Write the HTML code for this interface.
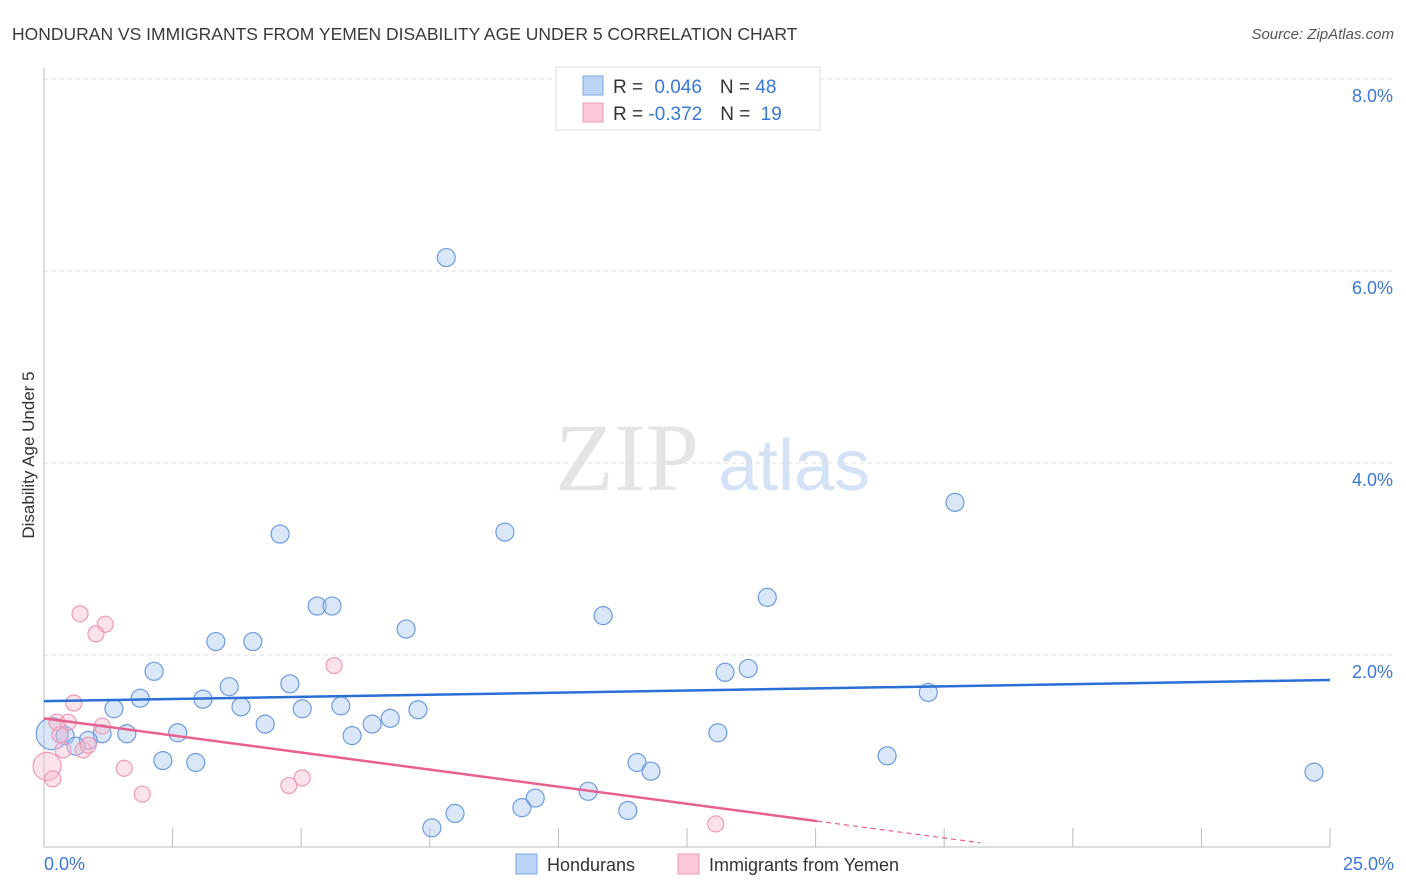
<!DOCTYPE html>
<html><head><meta charset="utf-8">
<style>
body{margin:0;background:#fff;font-family:"Liberation Sans",sans-serif;}
svg{display:block}
</style></head>
<body>
<svg id="chart" width="1406" height="892">
  <text x="12" y="40" font-size="17.5" fill="#3a3a3a">HONDURAN VS IMMIGRANTS FROM YEMEN DISABILITY AGE UNDER 5 CORRELATION CHART</text>
  <text x="1394" y="39" font-size="15" fill="#555" font-style="italic" text-anchor="end">Source: ZipAtlas.com</text>
  <text x="34" y="455" font-size="17" fill="#333" text-anchor="middle" transform="rotate(-90 34 455)">Disability Age Under 5</text>
  <text x="555" y="490" font-size="96" fill="#e4e4e4" font-family="Liberation Serif, serif">ZIP</text>
  <text x="718" y="490" font-size="72" fill="#d3e2f5">atlas</text>
  <g id="grid"></g>
  <g id="pts"></g>
  <g id="lines"></g>
  <g>
    <rect x="556" y="67" width="264" height="63" fill="#fff" stroke="#ddd"/>
    <rect x="583" y="76" width="20" height="19" fill="#bcd4f5" stroke="#7aa7e6"/>
    <rect x="583" y="103" width="20" height="19" fill="#fbc9d8" stroke="#f09ab4"/>
    <text x="613" y="93" font-size="19" fill="#333">R = <tspan fill="#3a78d6" dx="6">0.046</tspan><tspan dx="18" fill="#333">N = </tspan><tspan fill="#3a78d6">48</tspan></text>
    <text x="613" y="120" font-size="19" fill="#333">R = <tspan fill="#3a78d6">-0.372</tspan><tspan dx="18" fill="#333">N = </tspan><tspan fill="#3a78d6" dx="5">19</tspan></text>
  </g>
  <g>
    <rect x="516" y="854" width="21" height="20" fill="#bcd4f5" stroke="#7aa7e6"/>
    <text x="547" y="871" font-size="18" fill="#333">Hondurans</text>
    <rect x="678" y="854" width="21" height="20" fill="#fbc9d8" stroke="#f09ab4"/>
    <text x="709" y="871" font-size="18" fill="#333">Immigrants from Yemen</text>
  </g>
</svg>
<script>
const xTicks=[0,2.5,5,7.5,10,12.5,15,17.5,20,22.5,25];
const yTicks=[2,4,6,8];
const yTickLabels=["2.0%","4.0%","6.0%","8.0%"];
const xLabels=["0.0%","25.0%"];
const blueX=[7.82,4.59,8.96,17.71,5.31,5.60,7.04,10.87,14.06,3.34,4.06,2.14,13.24,13.69,1.87,3.09,3.60,4.78,17.19,1.36,3.83,5.02,5.77,7.27,6.73,4.30,6.38,1.61,2.60,1.13,5.99,13.10,0.16,0.41,0.86,0.62,2.31,2.95,11.53,11.80,16.39,24.69,10.58,9.55,9.29,7.99,7.54,11.35];
const blueY=[6.14,3.26,3.28,3.59,2.51,2.51,2.27,2.41,2.60,2.14,2.14,1.83,1.82,1.86,1.55,1.54,1.67,1.70,1.61,1.44,1.46,1.44,1.47,1.43,1.34,1.28,1.28,1.18,1.19,1.18,1.16,1.19,1.18,1.16,1.11,1.05,0.90,0.88,0.88,0.79,0.95,0.78,0.58,0.51,0.41,0.35,0.20,0.38];
const pinkX=[0.70,1.19,1.01,5.64,0.58,0.25,0.47,1.13,0.37,0.76,0.86,0.06,0.17,1.56,1.91,4.76,5.02,13.06,0.31];
const pinkY=[2.43,2.32,2.22,1.89,1.50,1.30,1.30,1.26,1.01,1.01,1.06,0.84,0.71,0.82,0.55,0.64,0.72,0.24,1.17];
const blueTrend=[1.52,1.74];
const pinkTrend=[1.34,-0.0712];
const pinkSolidEnd=15.03;
const pinkDashEnd=18.2;
const X=v=>44+v/25*1286, Y=v=>847-v*96;
const NS="http://www.w3.org/2000/svg";
function mk(tag,attrs,parent){const e=document.createElementNS(NS,tag);for(const k in attrs)e.setAttribute(k,attrs[k]);parent.appendChild(e);return e;}
const grid=document.getElementById('grid');
mk('line',{x1:44,y1:68,x2:44,y2:847,stroke:'#bbb'},grid);
mk('line',{x1:44,y1:847,x2:1330,y2:847,stroke:'#bbb'},grid);
yTicks.forEach((t,i)=>{
  const l=mk('line',{x1:44,y1:Y(t),x2:1394,y2:Y(t),stroke:'#ddd','stroke-dasharray':'4,4'},grid);
  
  
  const tx=mk('text',{x:1393,y:Y(t)+23,'font-size':18,fill:'#3a78d6','text-anchor':'end'},grid);
  tx.textContent=yTickLabels[i];
  
  
});
xTicks.forEach(t=>{
  const l=mk('line',{x1:X(t),y1:828,x2:X(t),y2:847,stroke:'#bbb'},grid);
  
  
});
const xl0=mk('text',{x:44,y:870,'font-size':18,fill:'#3a78d6'},grid);xl0.textContent=xLabels[0];


const xl1=mk('text',{x:1394,y:870,'font-size':18,fill:'#3a78d6','text-anchor':'end'},grid);xl1.textContent=xLabels[1];


const pts=document.getElementById('pts');
blueX.forEach((x,i)=>{
  const r=(i===32)?16:9;
  const c=mk('circle',{cx:X(x),cy:Y(blueY[i]),r:r,fill:'rgba(165,198,240,0.42)',stroke:'#6d9be0','stroke-width':1.2},pts);
  
  
});
pinkX.forEach((x,i)=>{
  const r=(i===11)?14:8;
  const c=mk('circle',{cx:X(x),cy:Y(pinkY[i]),r:r,fill:'rgba(248,185,205,0.42)',stroke:'#ef9ab4','stroke-width':1.2},pts);
  
  
});
const lines=document.getElementById('lines');
const bl=mk('line',{x1:X(0),y1:Y(blueTrend[0]),x2:X(25),y2:Y(blueTrend[1]),stroke:'#2a6fd6','stroke-width':2.5},lines);


const pf=x=>pinkTrend[0]+pinkTrend[1]*x;
const pl=mk('line',{x1:X(0),y1:Y(pf(0)),x2:X(pinkSolidEnd),y2:Y(pf(pinkSolidEnd)),stroke:'#e8608e','stroke-width':2.5},lines);


const pd=mk('line',{x1:X(pinkSolidEnd),y1:Y(pf(pinkSolidEnd)),x2:X(pinkDashEnd),y2:Y(pf(pinkDashEnd)),stroke:'#e8608e','stroke-width':1.2,'stroke-dasharray':'5,4'},lines);


</script>
</body></html>
